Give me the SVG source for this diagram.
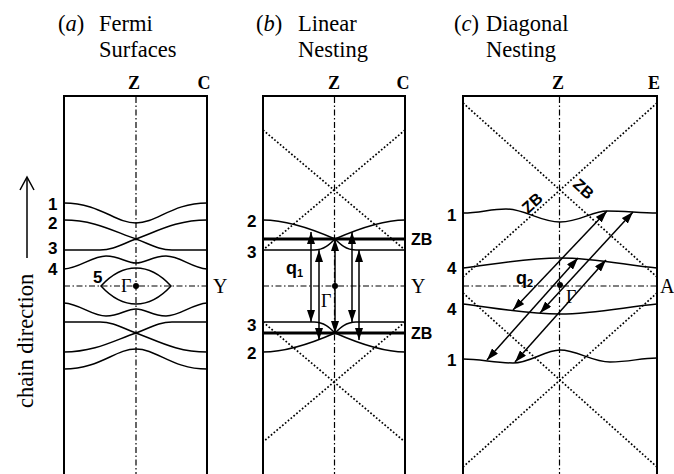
<svg xmlns="http://www.w3.org/2000/svg" width="674" height="474" viewBox="0 0 674 474">
<defs>
<marker id="ah" viewBox="0 0 12 8" refX="12" refY="4" markerWidth="12" markerHeight="8" markerUnits="userSpaceOnUse" orient="auto-start-reverse">
<path d="M0,0 L12,4 L0,8 z" fill="#000"/>
</marker>
<style>
.title{font-family:"Liberation Serif",serif;font-size:22.5px;fill:#000}
.ax{font-family:"Liberation Serif",serif;font-size:18px;font-weight:bold;fill:#000}
.yl{font-family:"Liberation Serif",serif;font-size:20px;fill:#000}
.gm{font-family:"Liberation Serif",serif;font-size:18px;fill:#000}
.num{font-family:"Liberation Sans",sans-serif;font-size:17px;font-weight:bold;fill:#000}
.zb{font-family:"Liberation Sans",sans-serif;font-size:16px;font-weight:bold;fill:#000}
.q{font-family:"Liberation Sans",sans-serif;font-size:18px;font-weight:bold;fill:#000}
.qs{font-family:"Liberation Sans",sans-serif;font-size:11px;font-weight:bold;fill:#000}
.border{fill:none;stroke:#000;stroke-width:2}
.axis{fill:none;stroke:#000;stroke-width:1.2;stroke-dasharray:6 2.5 1.5 2.5}
.dot{fill:none;stroke:#000;stroke-width:1.7;stroke-dasharray:1.7 2}
.band{fill:none;stroke:#000;stroke-width:1.5}
.zbl{fill:none;stroke:#000;stroke-width:3}
.arr{fill:none;stroke:#000;stroke-width:1.5;marker-start:url(#ah);marker-end:url(#ah)}
</style>
</defs>

<g id="side-label">
<line x1="27" y1="258" x2="27" y2="178" stroke="#000" stroke-width="1.5"/>
<path d="M20,190 L27,177 L34,190" fill="none" stroke="#000" stroke-width="1.5"/>
<text class="title" transform="translate(33,408) rotate(-90)">chain direction</text>
</g>

<g id="panel-a">
<text class="title" x="58" y="31">(<tspan font-style="italic">a</tspan>)</text>
<text class="title" x="99" y="31">Fermi</text>
<text class="title" x="99" y="57">Surfaces</text>
<text class="ax" x="134" y="89" text-anchor="middle">Z</text>
<text class="ax" x="204" y="89" text-anchor="middle">C</text>
<path class="border" d="M64,474 V96 H207 V474"/>
<line class="axis" x1="136" y1="97" x2="136" y2="474"/>
<line class="axis" x1="64" y1="286" x2="207" y2="286"/>
<path class="band" d="M64,203 C100,203 115,223 136,223 S172,203 207,203"/>
<path class="band" d="M64,220 C95,220 115,232 136,239 C150,244 158,250 172,250 L207,250"/>
<path class="band" d="M207,220 C176,220 156,232 136,239 C122,244 114,250 100,250 L64,250"/>
<path class="band" d="M64,269 C80,268 92,256 106,256 C120,256 126,263 136,263 C146,263 152,256 166,256 C180,256 192,268 207,269"/>
<path class="band" d="M101,286 C112,274 124,268 136,268 C148,268 160,274 171,286 C160,298 148,304 136,304 C124,304 112,298 101,286 Z"/>
<path class="band" d="M64,303 C80,304 92,316 106,316 C120,316 126,309 136,309 C146,309 152,316 166,316 C180,316 192,304 207,303"/>
<path class="band" d="M64,352 C95,352 115,340 136,333 C150,328 158,322 172,322 L207,322"/>
<path class="band" d="M207,352 C176,352 156,340 136,333 C122,328 114,322 100,322 L64,322"/>
<path class="band" d="M64,369 C100,369 115,349 136,349 S172,369 207,369"/>
<circle cx="136" cy="286" r="3"/>
<text class="gm" x="121" y="292">Γ</text>
<text class="yl" x="213" y="293">Y</text>
<text class="num" x="48" y="210">1</text>
<text class="num" x="48" y="229">2</text>
<text class="num" x="48" y="254">3</text>
<text class="num" x="48" y="275">4</text>
<text class="num" x="93" y="283">5</text>
</g>

<g id="panel-b">
<text class="title" x="256" y="31">(<tspan font-style="italic">b</tspan>)</text>
<text class="title" x="298" y="31">Linear</text>
<text class="title" x="298" y="57">Nesting</text>
<text class="ax" x="334" y="89" text-anchor="middle">Z</text>
<text class="ax" x="403" y="89" text-anchor="middle">C</text>
<path class="border" d="M263,474 V96 H405 V474"/>
<line class="axis" x1="334.5" y1="97" x2="334.5" y2="474"/>
<line class="axis" x1="263" y1="286" x2="405" y2="286"/>
<line class="dot" x1="263" y1="130" x2="405" y2="250"/>
<line class="dot" x1="405" y1="130" x2="263" y2="250"/>
<line class="dot" x1="263" y1="322" x2="405" y2="442"/>
<line class="dot" x1="405" y1="322" x2="263" y2="442"/>
<path class="band" d="M263,220 C285,220 310,228 335,239 C360,228 385,220 405,220"/>
<path class="band" d="M263,250 L314,250 C324,250 330,244 335,239 C340,244 346,250 356,250 L405,250"/>
<path class="band" d="M263,352 C285,352 310,344 335,333 C360,344 385,352 405,352"/>
<path class="band" d="M263,322 L314,322 C324,322 330,328 335,333 C340,328 346,322 356,322 L405,322"/>
<line class="zbl" x1="263" y1="239" x2="405" y2="239"/>
<line class="zbl" x1="263" y1="333" x2="405" y2="333"/>
<circle cx="335" cy="286" r="3"/>
<text class="gm" x="321" y="307">Γ</text>
<text class="yl" x="411" y="293">Y</text>
<text class="zb" x="411" y="245">ZB</text>
<text class="zb" x="411" y="339">ZB</text>
<text class="num" x="247" y="227">2</text>
<text class="num" x="247" y="258">3</text>
<text class="num" x="247" y="331">3</text>
<text class="num" x="247" y="359">2</text>
<text class="q" x="286" y="274">q<tspan class="qs" dy="3">1</tspan></text>
</g>

<g id="panel-c">
<text class="title" x="454" y="31">(<tspan font-style="italic">c</tspan>)</text>
<text class="title" x="486" y="31">Diagonal</text>
<text class="title" x="486" y="57">Nesting</text>
<text class="ax" x="558" y="89" text-anchor="middle">Z</text>
<text class="ax" x="654" y="89" text-anchor="middle">E</text>
<path class="border" d="M463,474 V96 H657 V474"/>
<line class="axis" x1="559.5" y1="97" x2="559.5" y2="474"/>
<line class="axis" x1="463" y1="286" x2="657" y2="286"/>
<line class="dot" x1="463" y1="103" x2="657" y2="277"/>
<line class="dot" x1="657" y1="103" x2="463" y2="277"/>
<line class="dot" x1="463" y1="293" x2="657" y2="467"/>
<line class="dot" x1="657" y1="293" x2="463" y2="467"/>
<path class="band" d="M463,213 C480,213 490,209 506,209 C525,209 540,222 560,222 C580,222 592,211 607,211 C625,211 640,213 657,213"/>
<path class="band" d="M463,268 C495,264 525,258 560,258 C595,258 625,265 657,268"/>
<path class="band" d="M463,304 C495,308 525,314 560,314 C595,314 625,307 657,304"/>
<path class="band" d="M463,359 C480,359 495,363 513,363 C530,363 545,350 560,350 C577,350 592,362 610,362 C630,362 640,358 657,358"/>
<circle cx="560" cy="285" r="3"/>
<text class="gm" x="566" y="303">Γ</text>
<text class="yl" x="660" y="293" font-size="18">A</text>
<text class="zb" transform="translate(536,207) rotate(-42)" text-anchor="middle">ZB</text>
<text class="zb" transform="translate(580,193) rotate(42)" text-anchor="middle">ZB</text>
<text class="num" x="447" y="221">1</text>
<text class="num" x="447" y="274">4</text>
<text class="num" x="447" y="315">4</text>
<text class="num" x="447" y="366">1</text>
<text class="q" x="516" y="284">q<tspan class="qs" dy="3">2</tspan></text>
</g>

<g id="connectors">
<line class="arr" x1="311" y1="232" x2="311" y2="322"/>
<line class="arr" x1="319" y1="250" x2="319" y2="340"/>
<line class="arr" x1="335" y1="239" x2="335" y2="333"/>
<line class="arr" x1="352" y1="232" x2="352" y2="322"/>
<line class="arr" x1="359" y1="250" x2="359" y2="340"/>
<line class="arr" x1="513" y1="310" x2="607" y2="211"/>
<line class="arr" x1="540" y1="313" x2="633" y2="212"/>
<line class="arr" x1="487" y1="360" x2="578" y2="258"/>
<line class="arr" x1="515" y1="362" x2="606" y2="260"/>
</g>
</svg>
